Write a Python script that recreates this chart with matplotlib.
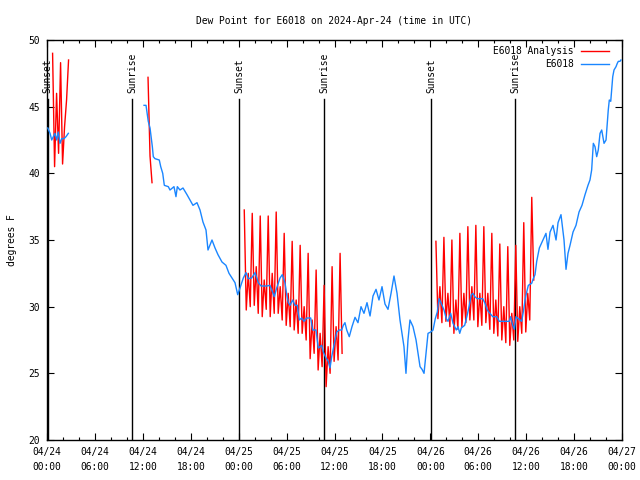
import numpy as np
import pandas as pd
import matplotlib
matplotlib.use("Agg")
import matplotlib.pyplot as plt
import matplotlib.dates as mdates

plt.rcParams["font.family"] = ["DejaVu Sans Mono"]
plt.rcParams["font.size"] = 6.9

start = pd.Timestamp("2024-04-24 00:00")

# observed dew point: hours after 04/24 00:00 UTC and degrees F (nan = data gap)
obs_hours = [0.10, 0.38, 0.59, 0.79, 1.00, 1.21, 1.41, 1.63, 1.84, 2.13, 2.38, 2.67, 7.0,
             12.15, 12.40, 12.48, 12.68, 12.90, 13.19, 13.31, 13.52, 14.06, 14.24, 14.49, 14.69,
             15.19, 15.40, 15.90, 16.15, 16.32, 16.65, 17.03, 17.53, 17.91, 18.28, 18.78, 19.16,
             19.53, 19.91, 20.16, 20.66, 21.04, 21.41, 21.91, 22.41, 22.79, 23.17, 23.54, 23.88,
             24.17, 24.58, 24.92, 25.21, 25.63, 26.05, 26.46, 26.80, 27.51, 27.92, 28.14, 28.46,
             28.76, 29.18, 29.46, 29.80, 30.02, 30.22, 30.43, 30.77, 31.05, 31.34, 31.59, 31.89,
             32.18, 32.52, 33.02, 33.27, 33.68, 33.97, 34.40, 34.60, 34.94, 35.22, 35.44, 35.65,
             35.94, 36.28, 36.60, 36.90, 37.10, 37.31, 37.53, 37.85, 38.19, 38.57, 38.94, 39.32,
             39.69, 40.07, 40.45, 40.82, 41.20, 41.57, 41.95, 42.32, 42.70, 43.08, 43.45, 43.83,
             44.20, 44.45, 44.70, 44.95, 45.20, 45.45, 45.83, 46.21, 46.46, 46.71, 46.96, 47.21,
             47.46, 47.71, 48.05, 48.34, 48.62, 48.87, 49.09, 49.37, 49.71, 50.00, 50.21, 50.55,
             50.84, 51.25, 51.47, 51.68, 51.88, 52.30, 52.63, 52.93, 53.13, 53.34, 53.56, 53.88,
             54.22, 54.56, 54.85, 55.13, 55.47, 55.81, 56.31, 56.64, 57.14, 57.89, 58.06, 58.31,
             58.52, 58.73, 59.02, 59.44, 59.64, 59.86, 60.07, 60.27, 60.69, 60.89, 61.11, 61.32,
             61.65, 62.11, 62.48, 62.73, 62.99, 63.36, 63.74, 63.99, 64.36, 64.74, 64.99, 65.24,
             65.49, 65.87, 66.24, 66.62, 66.99, 67.37, 67.74, 67.99, 68.20, 68.41, 68.62, 68.83,
             69.03, 69.25, 69.46, 69.75, 70.00, 70.16, 70.28, 70.41, 70.59, 70.71, 70.84, 71.00,
             71.25, 71.41, 71.54, 71.75, 71.87]
obs_dewpt = [43.4, 43.0, 42.5, 42.75, 43.0, 42.5, 43.1, 42.25, 42.6, 42.6, 42.75, 43.0, np.nan,
             45.1, 45.1, 44.75, 43.9, 43.4, 42.0, 41.25, 41.1, 41.0, 40.5, 40.0, 39.1,
             39.0, 38.75, 39.0, 38.25, 39.0, 38.75, 38.9, 38.4, 38.0, 37.6, 37.8, 37.25,
             36.35, 35.75, 34.25, 35.0, 34.4, 33.9, 33.35, 33.1, 32.5, 32.15, 31.8, 30.9,
             31.4, 32.15, 32.55, 32.1, 32.15, 32.55, 31.8, 31.55, 31.55, 31.6, 31.25, 30.75,
             31.4, 32.15, 32.4, 31.8, 30.9, 30.3, 30.1, 30.5, 30.1, 30.1, 29.0, 29.15,
             28.9, 29.15, 29.15, 28.25, 28.25, 26.9, 27.1, 26.6, 26.15, 25.9, 25.4, 26.25,
             27.1, 28.1, 28.25, 28.25, 28.6, 28.8, 28.25, 27.75, 28.5, 29.2, 28.8, 30.0,
             29.5, 30.3, 29.3, 30.8, 31.3, 30.5, 31.5, 30.2, 29.8, 31.0, 32.3, 31.0,
             29.0, 28.0, 27.0, 25.0, 27.5, 29.0, 28.5, 27.5, 26.5, 25.5, 25.3, 25.0,
             26.5, 28.0, 28.1, 28.25, 29.1, 29.6, 30.6, 30.25, 29.75, 29.1, 28.9, 29.5,
             28.75, 28.25, 28.5, 28.0, 28.4, 28.6, 29.4, 30.25, 30.9, 31.0, 30.75, 30.6,
             30.6, 30.6, 30.25, 29.75, 29.5, 29.25, 29.25, 28.9, 28.9, 28.9, 29.25, 28.6,
             28.3, 29.25, 29.1, 28.9, 29.6, 30.5, 31.1, 31.6, 31.75, 32.1, 32.4, 33.4,
             34.4, 35.0, 35.5, 34.3, 35.6, 36.1, 35.0, 36.3, 36.9, 35.0, 32.8, 34.0,
             34.6, 35.6, 36.1, 37.1, 37.6, 38.4, 39.1, 39.5, 40.25, 42.25, 42.0, 41.25,
             41.75, 43.0, 43.25, 42.25, 42.5, 43.75, 44.75, 45.5, 45.4, 46.25, 47.25, 47.75,
             48.0, 48.25, 48.4, 48.4, 48.5]

# analysis runs: first hour of each run, values every 15 minutes
ana_starts = [0.7, 12.65, 24.7, 48.7]
ana_runs = [
    [49.0, 40.5, 46.0, 41.5, 48.3, 40.7, 43.5, 45.5, 48.5],
    [47.2, 41.3, 39.3],
    [37.25, 29.75, 32.5, 30.0, 37.0, 30.1, 33.0, 29.5, 36.8, 29.25, 32.0, 29.8,
     36.8, 29.25, 32.5, 29.5, 37.1, 29.5, 31.5, 29.0, 35.5, 28.6, 31.0, 28.5,
     34.9, 28.25, 30.5, 28.0, 34.6, 28.0, 30.0, 27.5, 34.0, 26.1, 29.0, 26.5,
     32.75, 25.25, 28.0, 25.5, 31.6, 24.0, 27.0, 25.0, 33.0, 25.9, 28.5, 26.0,
     34.0, 26.5],
    [34.9, 29.1, 31.5, 28.8, 35.2, 28.9, 31.0, 28.5, 35.0, 28.0, 30.5, 28.3,
     35.5, 28.5, 31.0, 28.8, 36.0, 29.0, 31.5, 29.0, 36.1, 28.5, 31.0, 28.6,
     36.0, 28.8, 31.0, 28.3, 35.5, 28.0, 30.5, 27.8, 34.7, 27.5, 30.0, 27.3,
     34.5, 27.1, 29.5, 27.5, 34.6, 27.4, 30.0, 28.0, 36.3, 28.1, 31.0, 29.0,
     38.2, 32.0],
]

events = ["Sunset", "Sunrise", "Sunset", "Sunrise", "Sunset", "Sunrise"]
event_times = ["2024-04-24 00:05", "2024-04-24 10:39", "2024-04-25 00:05",
               "2024-04-25 10:41", "2024-04-26 00:07", "2024-04-26 10:39"]

red = "#ff0000"
blue = "#1a86ff"

fig = plt.figure(figsize=(6.4, 4.8), dpi=100)
ax = fig.add_axes([47 / 640, 40 / 480, 575 / 640, 400 / 480])

# analysis line, nan between runs
ana_t, ana_v = [], []
for h0, vals in zip(ana_starts, ana_runs):
    ana_t += list(start + pd.to_timedelta(h0, unit="h") + pd.to_timedelta(15 * np.arange(len(vals)), unit="min"))
    ana_v += vals
    ana_t.append(ana_t[-1] + pd.Timedelta(minutes=1))
    ana_v.append(np.nan)
ax.plot(ana_t, ana_v, color=red, lw=1.0, label="E6018 Analysis", zorder=3)

obs_t = start + pd.to_timedelta(obs_hours, unit="h")
ax.plot(obs_t, obs_dewpt, color=blue, lw=1.0, label="E6018", zorder=3)

# sunrise / sunset markers
for name, t in zip(events, event_times):
    t = pd.Timestamp(t)
    ax.plot([t, t], [20, 45.6], color="black", lw=1.0, zorder=2)
    ax.text(t, 46.0, name, rotation=90, ha="center", va="bottom", fontsize=6.9)

ax.set_xlim(start, start + pd.Timedelta(hours=72))
ax.set_ylim(20, 50)
ax.set_yticks(range(20, 51, 5))
ax.xaxis.set_major_locator(mdates.HourLocator(byhour=range(0, 24, 6)))
ax.xaxis.set_minor_locator(mdates.HourLocator(byhour=range(0, 24, 2)))
ax.xaxis.set_major_formatter(mdates.DateFormatter("%m/%d\n%H:%M"))
ax.tick_params(which="both", direction="in", top=True, right=True, width=0.8)
ax.tick_params(which="major", length=5, pad=5)
ax.tick_params(which="minor", length=2.5)
for lbl in ax.get_xticklabels():
    lbl.set_linespacing(1.6)
for s in ax.spines.values():
    s.set_linewidth(1.0)

ax.set_ylabel("degrees F", labelpad=8)
ax.set_title("Dew Point for E6018 on 2024-Apr-24 (time in UTC)", pad=11.5, fontsize=6.9)

ax.legend(loc="upper right", bbox_to_anchor=(0.978, 0.985), frameon=False, markerfirst=False,
          handlelength=3.0, handletextpad=0.7, labelspacing=0.3, borderpad=0, borderaxespad=0)

plt.savefig("out.png", dpi=100)
